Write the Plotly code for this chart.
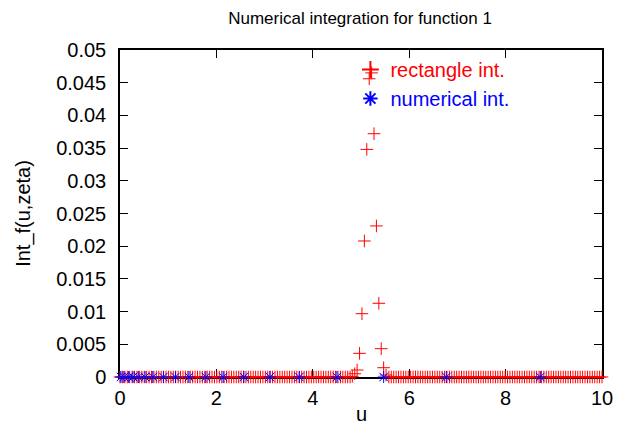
import numpy as np
import plotly.graph_objects as go

# rectangle integration: regular sample grid in u
rect_u = list(np.round(np.linspace(0, 10, 200), 4))
peak_u = [4.82, 4.87, 4.92, 4.97, 5.02, 5.07, 5.12, 5.17, 5.22, 5.27, 5.32, 5.37, 5.42, 5.47, 5.52]
peak_val = [0.0001, 0.0005, 0.00107, 0.00362, 0.00968, 0.0208, 0.0348, 0.0456,
            0.0465, 0.0372, 0.0231, 0.01127, 0.00433, 0.00142, 0.0003]

rect_val = []
rect_x = []
for u in rect_u:
    if 4.80 < u < 5.55:
        continue
    rect_x.append(u)
    rect_val.append(0.0)
rect_x = rect_x + peak_u
rect_val = rect_val + peak_val

# numerical integration nodes (all values ~0)
num_u = [0.02, 0.08, 0.18, 0.27, 0.38, 0.52, 0.68, 0.90, 1.15, 1.43, 1.78,
         2.14, 2.57, 3.11, 3.72, 4.50, 5.47, 6.77, 8.72]
num_val = [0.0] * len(num_u)

x_ticks = [0, 2, 4, 6, 8, 10]
y_ticks = [0, 0.005, 0.01, 0.015, 0.02, 0.025, 0.03, 0.035, 0.04, 0.045, 0.05]
y_labels = ["0", "0.005", "0.01", "0.015", "0.02", "0.025", "0.03", "0.035", "0.04", "0.045", "0.05"]

FONT = "Liberation Sans, Arial, Helvetica, sans-serif"

fig = go.Figure()
fig.add_trace(go.Scatter(
    x=rect_x, y=rect_val, mode="markers", cliponaxis=False,
    name="<span style='color:#ff0000'>rectangle int.</span>",
    marker=dict(symbol="cross-thin-open", size=9, color="#ff0000",
                line=dict(color="#ff0000", width=1)),
))
fig.add_trace(go.Scatter(
    x=num_u, y=num_val, mode="markers", cliponaxis=False,
    name="<span style='color:#0000ff'>numerical int.</span>",
    marker=dict(symbol="asterisk-open", size=10, color="#0000ff",
                line=dict(color="#0000ff", width=1)),
))

fig.update_layout(
    width=622, height=440,
    margin=dict(l=112, r=28, t=42, b=71),
    paper_bgcolor="white", plot_bgcolor="white",
    font=dict(family=FONT, size=20, color="black"),
    title=dict(text="Numerical integration for function 1", x=0.566, xanchor="center",
               y=0.977, yanchor="middle", font=dict(size=17, color="black")),
    showlegend=True,
    legend=dict(x=0.478, y=1.0, xanchor="left", yanchor="top",
                bgcolor="rgba(0,0,0,0)", font=dict(size=20),
                tracegroupgap=0, itemsizing="constant"),
    annotations=[dict(text="u", xref="paper", yref="paper", x=0.5, y=-0.113,
                      xanchor="center", yanchor="middle", showarrow=False,
                      font=dict(size=20, color="black"))],
)
fig.update_xaxes(
    range=[0, 10], tickvals=x_ticks, ticktext=[str(t) for t in x_ticks],
    showline=True, linecolor="black", linewidth=1.5, mirror="ticks",
    ticks="inside", ticklen=8, tickcolor="black", tickwidth=1,
    ticklabelstandoff=2,
    showgrid=False, zeroline=False, layer="below traces",
)
fig.update_yaxes(
    range=[0, 0.05], tickvals=y_ticks, ticktext=y_labels,
    showline=True, linecolor="black", linewidth=1.5, mirror="ticks",
    ticks="inside", ticklen=8, tickcolor="black", tickwidth=1,
    ticklabelstandoff=8,
    showgrid=False, zeroline=False, layer="below traces",
    title=dict(text="Int_f(u,zeta)", standoff=20, font=dict(size=20)),
)

fig.write_html("out.html")
